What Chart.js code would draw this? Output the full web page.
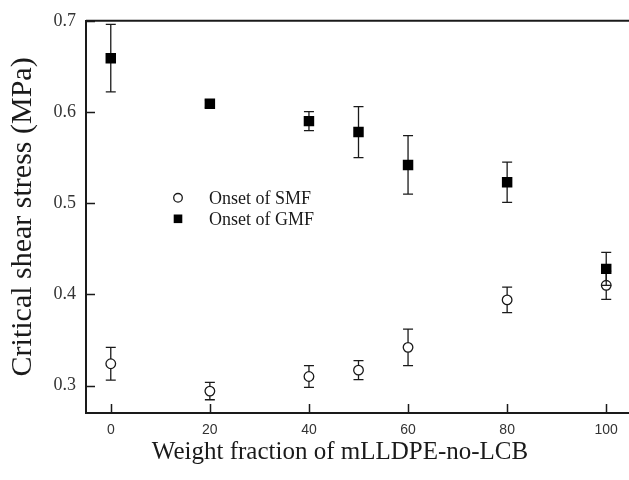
<!DOCTYPE html>
<html>
<head>
<meta charset="utf-8">
<script src="https://cdn.jsdelivr.net/npm/chart.js@4/dist/chart.umd.min.js"></script>
<style>
  html, body { margin: 0; padding: 0; background: #fff; overflow: hidden; }
  #wrap { width: 629px; height: 480px; overflow: hidden; }
</style>
</head>
<body>
<div id="wrap"><canvas id="stressChart" width="631" height="480"></canvas></div>
<script>
// ---- data ----
const fractions = [0, 20, 40, 50, 60, 80, 100];
const smfStress = [0.324, 0.294, 0.310, 0.317, 0.342, 0.394, 0.410];
const smfError  = [0.018, 0.0095, 0.012, 0.0105, 0.020, 0.014, 0.0155];
const gmfStress = [0.659, 0.609, 0.590, 0.578, 0.542, 0.523, 0.428];
const gmfError  = [0.037, 0.004, 0.0105, 0.028, 0.032, 0.022, 0.018];
const xTicks = [0, 20, 40, 60, 80, 100];
const yTicks = [0.3, 0.4, 0.5, 0.6, 0.7];
const seriesLabels = ['Onset of SMF', 'Onset of GMF'];
const xTitle = 'Weight fraction of mLLDPE-no-LCB';

const INK = '#1a1a1a';
const SERIF = '"Liberation Serif", "Times New Roman", serif';
const SANS = '"Liberation Sans", Arial, sans-serif';

const toPoints = vals => fractions.map((f, i) => ({ x: f, y: vals[i] }));

// error bars, drawn just before each dataset's markers
const errorBars = {
    id: 'errorBars',
    beforeDatasetDraw(chart, args) {
        const ds = chart.data.datasets[args.index];
        if (!ds.errors) return;
        const { ctx, scales: { x, y } } = chart;
        ctx.save();
        ctx.strokeStyle = INK;
        ctx.lineWidth = 1.3;
        ds.data.forEach((p, i) => {
            const px = x.getPixelForValue(p.x);
            const top = y.getPixelForValue(p.y + ds.errors[i]);
            const bot = y.getPixelForValue(p.y - ds.errors[i]);
            ctx.beginPath();
            ctx.moveTo(px, top); ctx.lineTo(px, bot);
            ctx.moveTo(px - 5, top); ctx.lineTo(px + 5, top);
            ctx.moveTo(px - 5, bot); ctx.lineTo(px + 5, bot);
            ctx.stroke();
        });
        ctx.restore();
    }
};

// top frame line, inward ticks, x title (sits left of centre) and the in-plot legend
const frame = {
    id: 'frame',
    afterDraw(chart) {
        const { ctx, chartArea: a, scales: { x, y } } = chart;
        ctx.save();
        ctx.strokeStyle = INK;
        ctx.lineWidth = 2;
        ctx.beginPath();
        ctx.moveTo(a.left, a.top);
        ctx.lineTo(a.right, a.top);
        ctx.stroke();

        ctx.lineWidth = 1.5;
        ctx.beginPath();
        yTicks.forEach(v => {
            const py = Math.round(y.getPixelForValue(v)) + 0.5;
            ctx.moveTo(a.left, py); ctx.lineTo(a.left + 9, py);
        });
        xTicks.forEach(v => {
            const px = Math.round(x.getPixelForValue(v)) + 0.5;
            ctx.moveTo(px, a.bottom); ctx.lineTo(px, a.bottom - 9);
        });
        ctx.stroke();

        ctx.fillStyle = INK;
        ctx.font = '25px ' + SERIF;
        ctx.textAlign = 'center';
        ctx.textBaseline = 'middle';
        ctx.fillText(xTitle, a.left + 254, a.bottom + 39);

        // legend
        const lx = a.left + 92, ly = a.top + 177;
        ctx.font = '18px ' + SERIF;
        ctx.textAlign = 'left';
        chart.data.datasets.forEach((ds, i) => {
            const cy = ly + i * 21;
            ctx.lineWidth = 1.3;
            if (ds.pointStyle === 'circle') {
                ctx.beginPath();
                ctx.arc(lx, cy, 4.3, 0, Math.PI * 2);
                ctx.fillStyle = '#fff';
                ctx.fill();
                ctx.stroke();
            } else {
                ctx.fillStyle = '#000';
                ctx.fillRect(lx - 4.3, cy - 4.3, 8.6, 8.6);
            }
            ctx.fillStyle = INK;
            ctx.fillText(ds.label, lx + 31, cy + 1);
        });
        ctx.restore();
    }
};

new Chart(document.getElementById('stressChart'), {
    type: 'scatter',
    data: {
        datasets: [
            {
                label: seriesLabels[0],
                data: toPoints(smfStress),
                errors: smfError,
                pointStyle: 'circle',
                pointRadius: 4.8,
                pointBorderWidth: 1.3,
                pointBackgroundColor: '#fff',
                pointBorderColor: INK,
                order: 2
            },
            {
                label: seriesLabels[1],
                data: toPoints(gmfStress),
                errors: gmfError,
                pointStyle: 'rect',
                pointRadius: 7.4,
                pointBorderWidth: 0,
                pointBackgroundColor: '#000',
                pointBorderColor: '#000',
                order: 1
            }
        ]
    },
    options: {
        responsive: false,
        animation: false,
        devicePixelRatio: 1,
        layout: { autoPadding: false, padding: { top: 20, right: 0, left: 0, bottom: 0 } },
        plugins: {
            legend: { display: false },
            tooltip: { enabled: false }
        },
        scales: {
            x: {
                type: 'linear',
                min: -5,
                max: 105,
                afterFit: s => { s.height = 67; },
                afterBuildTicks: s => { s.ticks = xTicks.map(v => ({ value: v })); },
                grid: { display: false, drawTicks: false },
                border: { display: true, width: 2, color: INK },
                ticks: {
                    padding: 9,
                    color: '#333',
                    font: { family: SANS, size: 14 },
                    callback: v => String(v)
                }
            },
            y: {
                type: 'linear',
                min: 0.27,
                max: 0.7,
                afterFit: s => { s.width = 86; },
                afterBuildTicks: s => { s.ticks = yTicks.map(v => ({ value: v })); },
                grid: { display: false, drawTicks: false },
                border: { display: true, width: 2, color: INK },
                ticks: {
                    padding: 10,
                    color: '#333',
                    font: { family: SERIF, size: 18 },
                    callback: v => v.toFixed(1)
                },
                title: {
                    display: true,
                    text: 'Critical shear stress (MPa)',
                    color: INK,
                    font: { family: SERIF, size: 30, lineHeight: 1 },
                    padding: { top: 8, bottom: 0 }
                }
            }
        }
    },
    plugins: [errorBars, frame]
});
</script>
</body>
</html>
